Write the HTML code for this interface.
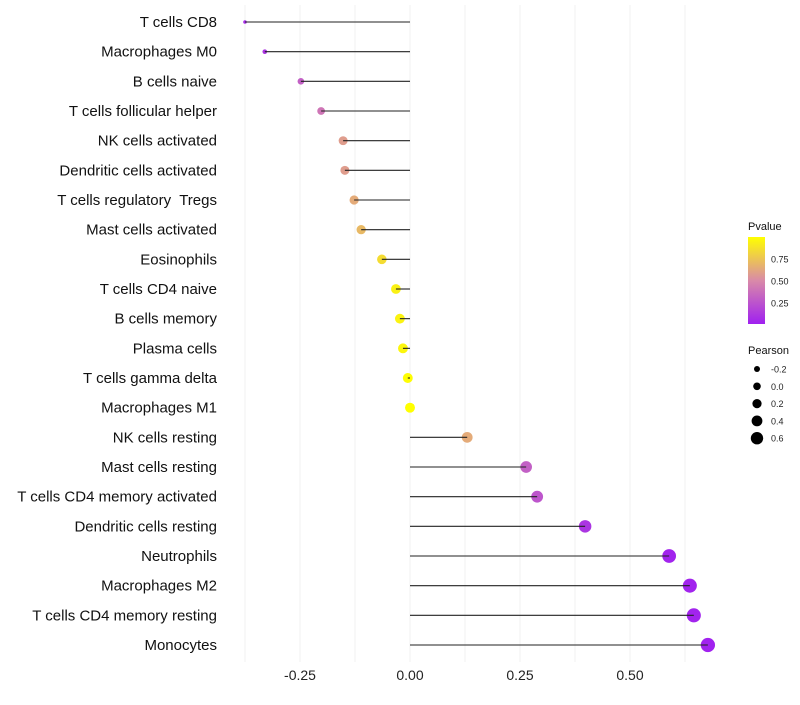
<!DOCTYPE html>
<html><head><meta charset="utf-8"><style>
body{margin:0;background:#fff;font-family:"Liberation Sans",sans-serif;}
</style></head><body>
<svg id="chart" width="800" height="700" xmlns="http://www.w3.org/2000/svg">
<defs><linearGradient id="pg" x1="0" y1="1" x2="0" y2="0">
<stop offset="0" stop-color="#a020f0"/><stop offset="0.5" stop-color="#d98aa8"/><stop offset="1" stop-color="#ffff00"/></linearGradient></defs>
<g id="grid"></g><g id="marks"></g><g id="labels"></g><g id="legend"></g>
</svg>
<script>
const categories=["T cells CD8","Macrophages M0","B cells naive","T cells follicular helper","NK cells activated","Dendritic cells activated","T cells regulatory\u00a0 Tregs","Mast cells activated","Eosinophils","T cells CD4 naive","B cells memory","Plasma cells","T cells gamma delta","Macrophages M1","NK cells resting","Mast cells resting","T cells CD4 memory activated","Dendritic cells resting","Neutrophils","Macrophages M2","T cells CD4 memory resting","Monocytes"];
const pearson=[-0.375,-0.33,-0.248,-0.202,-0.152,-0.148,-0.127,-0.111,-0.064,-0.032,-0.023,-0.016,-0.005,0.0,0.13,0.264,0.289,0.398,0.589,0.636,0.645,0.677];
const pvalue=[0.05,0.1,0.3,0.4,0.58,0.58,0.64,0.7,0.85,0.94,0.95,0.96,0.99,1.0,0.64,0.3,0.25,0.1,0.02,0.02,0.02,0.01];
const xTicks=[-0.25,0,0.25,0.5];
const xTickLabels=["-0.25","0.00","0.25","0.50"];
const colorTicks=[0.25,0.5,0.75];
const sizeTicks=[-0.2,0,0.2,0.4,0.6];
const NS="http://www.w3.org/2000/svg";
const x=v=>410+v*440;
const y=i=>22+i*29.667;
const r=v=>v>=-0.15?4.5+(v+0.15)*3.2:Math.max(1.8,4.5-(-0.15-v)*12);
const rl=v=>3+(v+0.2)/0.8*3.2;
function lerp(a,b,t){return a.map((c,i)=>Math.round(c+(b[i]-c)*t));}
function col(p){const A=[160,32,240],M=[217,138,168],B=[255,255,0];const c=p<0.5?lerp(A,M,p/0.5):lerp(M,B,(p-0.5)/0.5);return `rgb(${c})`;}
function mk(t,a,parent){const e=document.createElementNS(NS,t);for(const k in a)e.setAttribute(k,a[k]);document.getElementById(parent).appendChild(e);return e;}
for(let g=-0.375;g<=0.69;g+=0.125){
 const l=mk('line',{x1:x(g),x2:x(g),y1:5,y2:662,stroke:'#f2f2f2','stroke-width':1},'grid');
 
 
}
xTicks.forEach((t,i)=>{
 const e=mk('text',{x:x(t),y:680,'text-anchor':'middle','font-size':14,fill:'#222'},'labels');e.textContent=xTickLabels[i];
 
 
});
categories.forEach((c,i)=>{
 const t=mk('text',{x:217,y:y(i)+5,'text-anchor':'end','font-size':15,fill:'#111'},'labels');t.textContent=c;
 
 
 const p=mk('circle',{cx:x(pearson[i]),cy:y(i),r:r(pearson[i]),fill:col(pvalue[i])},'marks');
 
 
 const s=mk('line',{x1:x(0),x2:x(pearson[i]),y1:y(i),y2:y(i),stroke:'#222','stroke-width':1.1},'marks');
 
 
});
let e=mk('text',{x:748,y:230,'font-size':11,fill:'#111'},'legend');e.textContent='Pvalue';


e=mk('rect',{x:748,y:237,width:17,height:87,fill:'url(#pg)'},'legend');


colorTicks.forEach(t=>{const yy=324-(t-0.01)/0.99*87;
 e=mk('text',{x:771,y:yy+3.5,'font-size':9,fill:'#222'},'legend');e.textContent=t.toFixed(2);
 
 
});
e=mk('text',{x:748,y:354,'font-size':11,fill:'#111'},'legend');e.textContent='Pearson';


sizeTicks.forEach((t,i)=>{const yy=369+i*17.3;
 e=mk('circle',{cx:757,cy:yy,r:rl(t),fill:'#000'},'legend');
 
 
 e=mk('text',{x:771,y:yy+3.5,'font-size':9,fill:'#222'},'legend');e.textContent=t.toFixed(1);
 
 
});
</script>
</body></html>
